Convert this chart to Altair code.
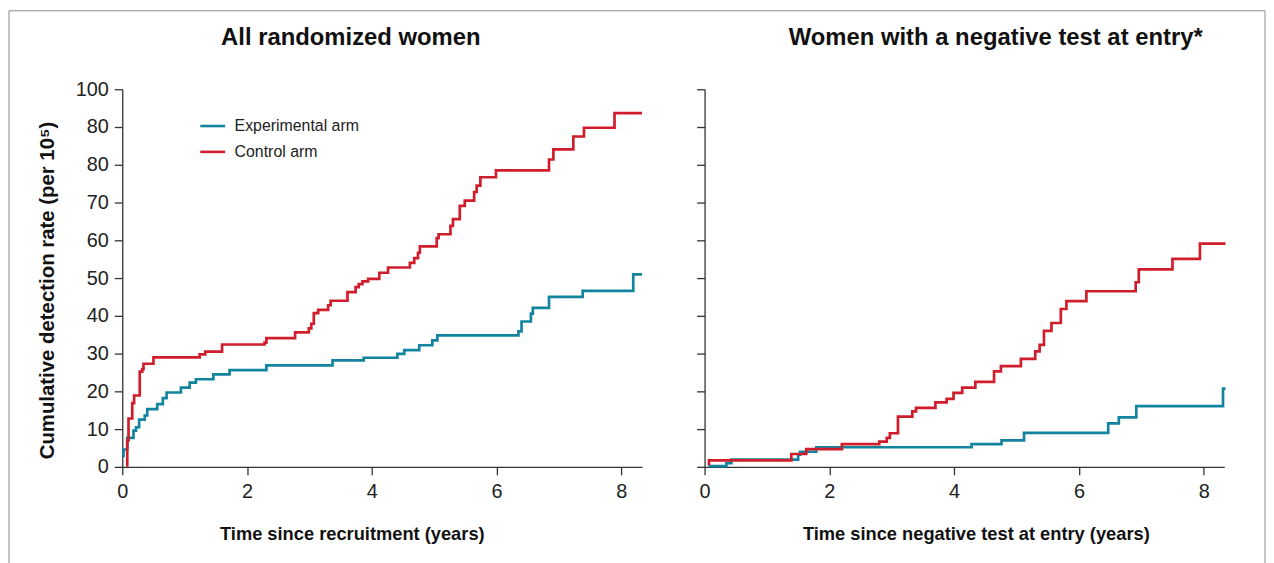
import altair as alt
import pandas as pd

FONT = "Liberation Sans"
TEAL = "#13849f"
RED = "#cf1d2b"
ARMS = ["Experimental arm", "Control arm"]

# ---- Left panel: all randomized women (step change points) ----
left_exp_t = [0.0, 0.02, 0.08, 0.18, 0.22, 0.27, 0.36, 0.40, 0.56, 0.65, 0.71, 0.94,
              1.08, 1.18, 1.46, 1.72, 2.31, 3.37, 3.87, 4.41, 4.52, 4.76, 4.97, 5.05,
              6.35, 6.40, 6.55, 6.58, 6.84, 7.38, 8.19, 8.33]
left_exp_rate = [2.9, 4.6, 7.7, 9.6, 10.5, 12.5, 13.6, 15.3, 16.6, 18.2, 19.7, 21.0,
                 22.3, 23.2, 24.5, 25.6, 26.9, 28.2, 28.9, 29.9, 30.9, 32.2, 33.5, 34.8,
                 35.9, 38.5, 40.6, 42.1, 45.0, 46.6, 51.0, 51.0]

left_ctl_t = [0.08, 0.08, 0.10, 0.16, 0.19, 0.28, 0.32, 0.34, 0.50, 1.24, 1.33, 1.60,
              2.28, 2.31, 2.77, 2.99, 3.03, 3.07, 3.14, 3.30, 3.34, 3.61, 3.74, 3.79,
              3.85, 3.94, 4.12, 4.26, 4.61, 4.68, 4.74, 4.77, 5.04, 5.07, 5.26, 5.30,
              5.41, 5.49, 5.64, 5.68, 5.74, 5.99, 6.84, 6.91, 7.23, 7.40, 7.89, 8.33]
left_ctl_rate = [0.0, 7.0, 12.8, 16.9, 18.9, 25.2, 25.9, 27.3, 29.0, 29.8, 30.5, 32.4,
                 32.9, 34.1, 35.6, 36.7, 37.9, 40.7, 41.6, 42.8, 44.0, 46.3, 47.6, 48.4,
                 49.1, 49.8, 51.4, 52.8, 54.0, 55.3, 56.7, 58.4, 60.6, 61.6, 63.8, 65.6,
                 69.1, 70.5, 72.8, 74.5, 76.7, 78.5, 81.4, 84.1, 87.5, 89.8, 93.7, 93.7]

# ---- Right panel: women with a negative test at entry ----
right_exp_t = [0.06, 0.35, 0.43, 1.50, 1.53, 1.79, 4.28, 4.76, 5.12, 6.47, 6.64, 6.92, 8.31, 8.35]
right_exp_rate = [0.2, 1.0, 1.9, 3.2, 4.0, 5.2, 6.0, 7.0, 9.0, 11.5, 13.1, 16.1, 20.7, 20.7]

right_ctl_t = [0.07, 0.07, 1.39, 1.63, 2.20, 2.80, 2.92, 2.97, 3.10, 3.33, 3.39, 3.70,
               3.88, 3.99, 4.13, 4.34, 4.64, 4.75, 5.07, 5.30, 5.37, 5.44, 5.56, 5.71,
               5.80, 6.12, 6.91, 6.96, 7.50, 7.94, 8.35]
right_ctl_rate = [0.4, 1.7, 3.4, 4.7, 6.0, 6.7, 7.7, 8.9, 13.3, 14.7, 15.6, 17.1,
                  18.0, 19.6, 21.0, 22.5, 25.3, 26.7, 28.6, 30.6, 32.3, 36.0, 38.1, 41.8,
                  43.9, 46.5, 48.9, 52.3, 55.1, 59.1, 59.1]

y_ticks = [0, 10, 20, 30, 40, 50, 60, 70, 80, 90, 100]
x_ticks = [0, 2, 4, 6, 8]

titles = ["All randomized women", "Women with a negative test at entry*"]
x_titles = ["Time since recruitment (years)", "Time since negative test at entry (years)"]
y_title = "Cumulative detection rate (per 10\u2075)"

W, H = 523, 380
XMAX = 8.33
GAP = 63


def make_df(et, er, ct, cr):
    rows = []
    i = 0
    for t, r in zip(et, er):
        rows.append({"t": t, "rate": r, "arm": ARMS[0], "i": i}); i += 1
    for t, r in zip(ct, cr):
        rows.append({"t": t, "rate": r, "arm": ARMS[1], "i": i}); i += 1
    return pd.DataFrame(rows)


color_scale = alt.Scale(domain=ARMS, range=[TEAL, RED])


def panel(df, title, xtitle, title_x, xtitle_x, left):
    yaxis = alt.Axis(
        values=y_ticks,
        labels=left,
        labelExpr="datum.value == 90 ? '80' : datum.label",
        title=y_title if left else None,
        titleX=-75, titleY=202, titleAngle=-90, titleAlign="center", titleBaseline="middle",
        titleFontSize=20.5, titleFont=FONT, titleFontWeight="bold", titleColor="#111",
    )
    legend = alt.Legend(
        orient="none", legendX=77, legendY=23, title=None, symbolType="stroke",
        symbolSize=625, symbolStrokeWidth=2.6, labelFontSize=16, labelFont=FONT,
        labelColor="#222", labelOffset=8, rowPadding=4, padding=0,
    ) if left else None
    lines = alt.Chart(df).mark_line(interpolate="step-after", strokeWidth=2.7, clip=False).encode(
        x=alt.X("t:Q", scale=alt.Scale(domain=[0, XMAX], nice=False, zero=False),
                axis=alt.Axis(values=x_ticks, title=xtitle, titleX=xtitle_x, titleY=67,
                              labelFlush=False, labelPadding=7,
                              titleBaseline="middle", titleAlign="center",
                              titleFontSize=18.4, titleFont=FONT, titleFontWeight="bold",
                              titleColor="#111")),
        y=alt.Y("rate:Q", scale=alt.Scale(domain=[0, 100], nice=False), axis=yaxis),
        color=alt.Color("arm:N", scale=color_scale, legend=legend),
        order=alt.Order("i:Q"),
    ).properties(width=W, height=H)
    head = alt.Chart(alt.Data(values=[{"title": title}])).mark_text(
        font=FONT, fontSize=24, fontWeight="bold", color="#111",
        align="center", baseline="middle",
    ).encode(text="title:N", x=alt.value(title_x), y=alt.value(-52))
    return [head, lines]


left_df = make_df(left_exp_t, left_exp_rate, left_ctl_t, left_ctl_rate)
right_df = make_df(right_exp_t, right_exp_rate, right_ctl_t, right_ctl_rate)

one = alt.Data(values=[{"k": 0}])
frame_color = "#8a8a8a"
frame_left = alt.Chart(one).mark_rule(color=frame_color, strokeWidth=1).encode(
    x=alt.value(-114), y=alt.value(-79), y2=alt.value(480))
frame_top = alt.Chart(one).mark_rule(color=frame_color, strokeWidth=1).encode(
    x=alt.value(-114), x2=alt.value(1150), y=alt.value(-79))
frame_right = alt.Chart(one).mark_rule(color=frame_color, strokeWidth=1).encode(
    x=alt.value(1150), y=alt.value(-79), y2=alt.value(480))

left = alt.layer(frame_left, frame_top, frame_right,
                 *panel(left_df, titles[0], x_titles[0], 230, 231, True))
right = alt.layer(*panel(right_df, titles[1], x_titles[1], 293, 273, False))

chart = alt.hconcat(left, right, spacing=GAP, bounds="flush").resolve_legend(
    color="independent"
).properties(padding=0).configure_view(stroke=None).configure_axis(
    grid=False, domainColor="#333", domainWidth=1.3, tickColor="#333", tickWidth=1.3,
    tickSize=8, labelFontSize=20, labelFont=FONT, labelColor="#222", labelPadding=5,
).configure_axisY(labelPadding=6)

chart.save("out.html", embed_options={"renderer": "svg", "actions": False})
